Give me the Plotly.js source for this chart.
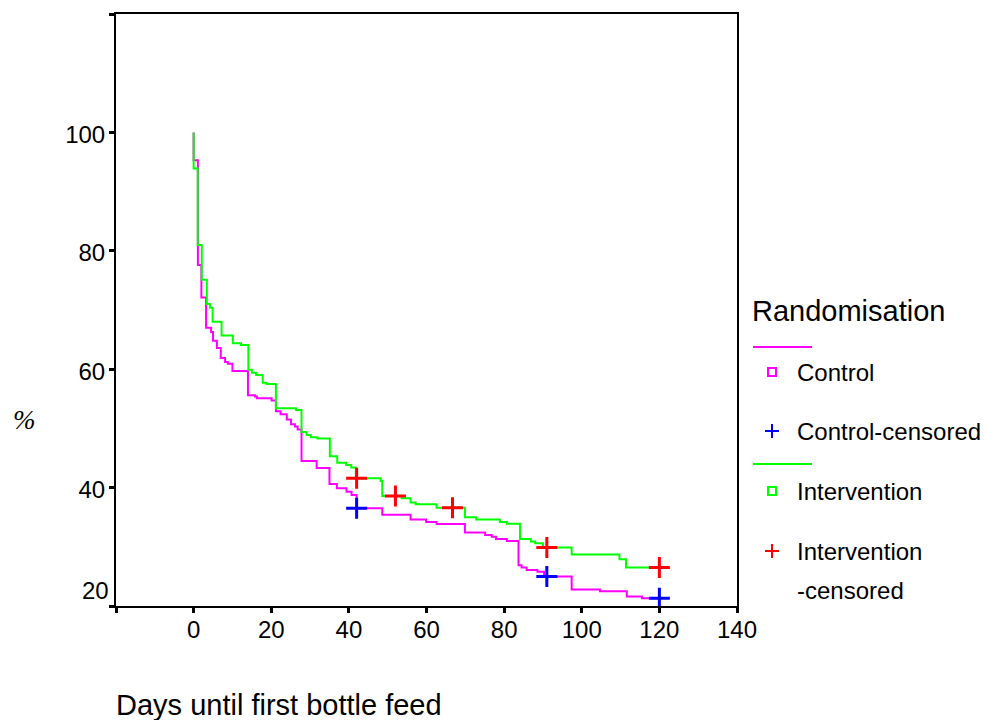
<!DOCTYPE html>
<html>
<head>
<meta charset="utf-8">
<script src="https://cdn.plot.ly/plotly-3.0.1.min.js"></script>
<style>html,body{margin:0;padding:0;background:#fff;}#chart{width:987px;height:720px;}</style>
</head>
<body>
<div id="chart"></div>
<script>
// ---- data ----
const ctrlDays = [0,0,1.1,2,3.2,4.5,5,6,7,8.1,8.8,10,14,15.8,16.3,20.1,21.2,22.4,24,25.1,26.1,26.8,27.8,31.7,35,36.9,39.4,40.7,42,48.6,55.9,59.9,62.6,69.9,75.1,76.8,77.9,80.7,83.7,84.5,85.8,88.6,90.3,97.4,104.7,111.6,115.5,120];
const ctrlSurv = [100,95.3,77.6,72.1,67,66.3,64.8,63.6,61.9,61.2,60.9,59.7,55.6,55.4,55.1,54.7,52.9,52.4,51.5,50.7,50.3,49.8,44.5,43.3,40.6,39.9,39.3,38.75,36.5,35.4,34.6,34.2,33.85,32.4,32.0,31.7,31.3,31.0,26.9,26.5,26.1,25.8,25.0,22.8,22.5,21.6,21.3,21.3];
const ctrlCensDays = [42,91,120];
const ctrlCensSurv = [36.5,25.0,21.3];

const intvDays = [0,0,1.05,2.1,3.4,4.2,4.9,7.2,10.1,12.2,14.1,15,16.1,17.8,18.8,21.2,26.4,27.8,29.1,30.2,31.9,35.1,37.0,39.3,40.6,41.8,48.2,48.6,53.6,55.9,57.2,62.6,69.9,72.8,78.9,80.7,84.1,86.9,88,90,97.4,109.7,111.4,120];
const intvSurv = [100,93.9,81.0,75.1,71.0,70.4,68.0,65.7,64.4,64.1,59.9,59.4,59.0,57.7,57.5,53.4,53.1,49.4,48.9,48.5,48.3,45.3,44.2,43.8,43.4,41.6,41.1,38.6,38.2,37.5,37.2,36.6,35.0,34.6,34.2,33.9,31.3,30.9,30.6,29.9,28.7,27.9,26.5,26.5];
const intvCensDays = [42,52,66.7,91,120];
const intvCensSurv = [41.6,38.6,36.6,29.9,26.5];

const xTickVals = [-20,0,20,40,60,80,100,120,140];
const xTickText = ['','0','20','40','60','80','100','120','140'];
const yTickVals = [20,40,60,80,100,120];
const yTickText = ['','40','60','80','100',''];

const legendTitle = 'Randomisation';
const legendLabels = ['Control','Control-censored','Intervention','Intervention','-censored'];

// ---- layout helpers (pixel -> paper) ----
const L = 116, R = 737, T = 14, B = 606;
const px = x => (x - L) / (R - L);
const py = y => (B - y) / (B - T);
const FONT = 'Liberation Sans, Arial, sans-serif';

const traces = [
  {x: ctrlDays, y: ctrlSurv, mode: 'lines', line: {shape: 'hv', color: '#ff00ff', width: 2}, showlegend: false, hoverinfo: 'skip'},
  {x: intvDays, y: intvSurv, mode: 'lines', line: {shape: 'hv', color: '#00ff00', width: 2}, showlegend: false, hoverinfo: 'skip'},
  {x: ctrlCensDays, y: ctrlCensSurv, mode: 'markers', marker: {symbol: 'cross-thin', size: 15, line: {color: '#0000ff', width: 3}}, showlegend: false, hoverinfo: 'skip'},
  {x: intvCensDays, y: intvCensSurv, mode: 'markers', marker: {symbol: 'cross-thin', size: 15, line: {color: '#ff0000', width: 3}}, showlegend: false, hoverinfo: 'skip'}
];

const shapes = [];
const annotations = [];
function hline(x0, x1, y, color) {
  shapes.push({type: 'line', xref: 'paper', yref: 'paper', x0: px(x0), x1: px(x1), y0: py(y), y1: py(y), line: {color: color, width: 2}});
}
function square(cx, cy, color) {
  shapes.push({type: 'rect', xref: 'paper', yref: 'paper', x0: px(cx - 4), x1: px(cx + 4), y0: py(cy + 4), y1: py(cy - 4), line: {color: color, width: 2}});
}
function plus(cx, cy, color) {
  shapes.push({type: 'line', xref: 'paper', yref: 'paper', x0: px(cx - 7), x1: px(cx + 7), y0: py(cy), y1: py(cy), line: {color: color, width: 2}});
  shapes.push({type: 'line', xref: 'paper', yref: 'paper', x0: px(cx), x1: px(cx), y0: py(cy - 7), y1: py(cy + 7), line: {color: color, width: 2}});
}
function text(t, x, y, size, extra) {
  annotations.push(Object.assign({text: t, xref: 'paper', yref: 'paper', x: px(x), y: py(y), xanchor: 'left', yanchor: 'middle', showarrow: false, font: {family: FONT, size: size, color: '#000'}}, extra || {}));
}

// legend
text(legendTitle, 750, 311, 29);
hline(753, 812, 347, '#ff00ff');
square(772, 372, '#ff00ff');
text(legendLabels[0], 795, 372, 24);
plus(772, 431, '#0000ff');
text(legendLabels[1], 795, 431, 24);
hline(753, 812, 464, '#00ff00');
square(772, 491, '#00ff00');
text(legendLabels[2], 795, 491, 24);
plus(772, 551, '#ff0000');
text(legendLabels[3], 795, 551, 24);
text(legendLabels[4], 795, 590, 24);

// axis titles and the lifted "20" label
text('Days until first bottle feed', 114, 705, 29);
text('%', 11, 420, 27, {font: {family: 'Liberation Serif, serif', size: 27, color: '#000', style: 'italic'}});
text('20', 111, 590, 24, {xanchor: 'right'});

const layout = {
  width: 987, height: 720,
  margin: {l: L, r: 987 - R, t: T, b: 720 - B, pad: 0},
  paper_bgcolor: '#fff', plot_bgcolor: '#fff',
  font: {family: FONT, size: 24, color: '#000'},
  xaxis: {
    range: [-20, 140], tickvals: xTickVals, ticktext: xTickText,
    showgrid: false, zeroline: false, showline: true, linecolor: '#000', linewidth: 2, mirror: true,
    ticks: 'outside', ticklen: 5, tickwidth: 3, tickcolor: '#000', tickfont: {size: 24},
    ticklabelstandoff: -4
  },
  yaxis: {
    range: [20, 120], tickvals: yTickVals, ticktext: yTickText,
    showgrid: false, zeroline: false, showline: true, linecolor: '#000', linewidth: 2, mirror: true,
    ticks: 'outside', ticklen: 5, tickwidth: 3, tickcolor: '#000', tickfont: {size: 24},
    ticklabelshift: 2, ticklabelstandoff: -1
  },
  showlegend: false,
  shapes: shapes,
  annotations: annotations
};

Plotly.newPlot('chart', traces, layout, {staticPlot: true, displayModeBar: false});
</script>
</body>
</html>
